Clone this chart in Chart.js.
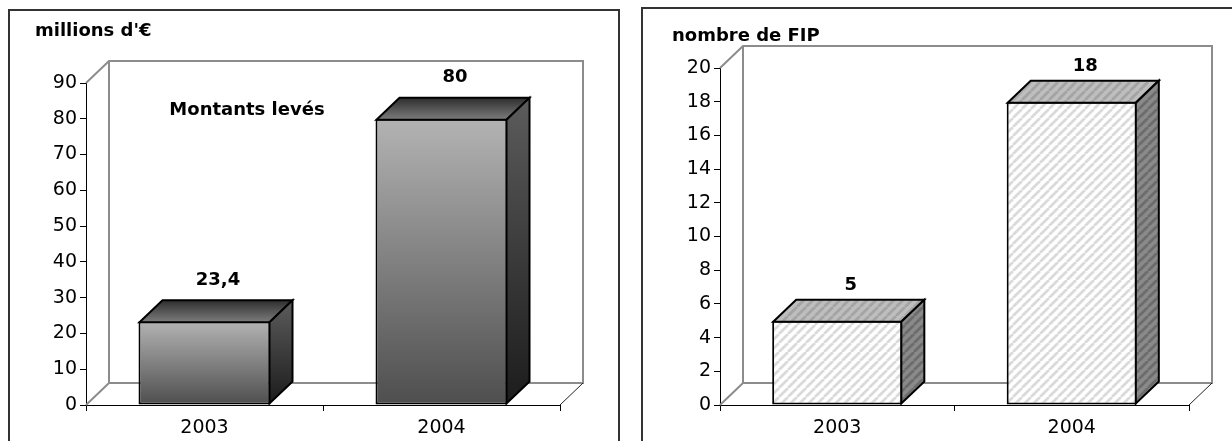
<!DOCTYPE html>
<html lang="fr">
<head>
<meta charset="utf-8">
<title>Montants levés et nombre de FIP</title>
<script src="https://cdn.jsdelivr.net/npm/chart.js@4.4.1/dist/chart.umd.min.js"></script>
<style>
  html, body { margin: 0; padding: 0; background: #fff; overflow: hidden; }
  body { position: relative; width: 1232px; height: 441px; }
  .frame { position: absolute; box-sizing: border-box; border: 2px solid #333; height: 460px; }
  #frameLeft { left: 8px; top: 9px; width: 612px; }
  #frameRight { left: 641px; top: 7px; width: 620px; }
  canvas { position: absolute; }
  #montantsChart { left: 11px; top: 12px; }
  #fipChart { left: 644px; top: 10px; }
</style>
</head>
<body>
<div class="frame" id="frameLeft"></div>
<div class="frame" id="frameRight"></div>
<canvas id="montantsChart" width="606" height="429"></canvas>
<canvas id="fipChart" width="588" height="431"></canvas>
<script>
const years = ['2003', '2004'];
const montants = [23.4, 80];
const nombreFip = [5, 18];
const montantsMax = 90, montantsStep = 10;
const fipMax = 20, fipStep = 2;
const montantsUnit = "millions d'€";
const fipUnit = 'nombre de FIP';
const montantsLabel = 'Montants levés';

// depth of the fake 3D (walls and bars)
const DX = 23, DY = 22;

Chart.defaults.font.family = '"DejaVu Sans", "Liberation Sans", sans-serif';
Chart.defaults.font.size = 19;
Chart.defaults.color = '#000';

function stripes(bg, fg) {
  const c = document.createElement('canvas');
  c.width = 9;
  c.height = 9;
  const g = c.getContext('2d');
  g.fillStyle = bg;
  g.fillRect(0, 0, 9, 9);
  g.strokeStyle = fg;
  g.lineWidth = 2.8;
  g.beginPath();
  for (const k of [-9, 0, 9]) {
    g.moveTo(k, 9);
    g.lineTo(k + 9, 0);
  }
  g.stroke();
  return g.createPattern(c, 'repeat');
}

const hatchFront = stripes('#ffffff', '#dadada');
const hatchTop = stripes('#bebebe', '#a4a4a4');
const hatchSide = stripes('#8a8a8a', '#6c6c6c');

// front face gradient, from the bar's own top down to the baseline
function frontFill(c) {
  const chart = c.chart;
  const y = chart.scales.y;
  if (!chart.chartArea || !y) return '#888';
  const top = y.getPixelForValue(c.raw);
  const base = y.getPixelForValue(0);
  const g = chart.ctx.createLinearGradient(0, top, 0, base);
  g.addColorStop(0, '#b3b3b3');
  g.addColorStop(1, '#4e4e4e');
  return g;
}

function faceFill(ctx, look, face, y0, y1) {
  if (look === 'hatch') return face === 'top' ? hatchTop : hatchSide;
  const g = ctx.createLinearGradient(0, y0, 0, y1);
  if (face === 'top') {
    g.addColorStop(0, '#2e2e2e');
    g.addColorStop(1, '#7c7c7c');
  } else {
    g.addColorStop(0, '#5c5c5c');
    g.addColorStop(1, '#1c1c1c');
  }
  return g;
}

const box3d = {
  id: 'box3d',
  beforeDatasetsDraw(chart) {
    const { ctx, chartArea: a } = chart;
    ctx.save();
    ctx.strokeStyle = '#8c8c8c';
    ctx.lineWidth = 2;
    ctx.beginPath();
    ctx.moveTo(a.left, a.top);
    ctx.lineTo(a.left + DX, a.top - DY);
    ctx.lineTo(a.right + DX, a.top - DY);
    ctx.lineTo(a.right + DX, a.bottom - DY);
    ctx.lineTo(a.left + DX, a.bottom - DY);
    ctx.lineTo(a.left + DX, a.top - DY);
    ctx.moveTo(a.left, a.bottom);
    ctx.lineTo(a.left + DX, a.bottom - DY);
    ctx.stroke();
    ctx.strokeStyle = '#222';
    ctx.lineWidth = 1;
    ctx.beginPath();
    ctx.moveTo(a.right, a.bottom);
    ctx.lineTo(a.right + DX, a.bottom - DY);
    ctx.stroke();
    ctx.restore();
  },
  afterDatasetsDraw(chart, args, opts) {
    const { ctx, chartArea: a } = chart;
    const ds = chart.data.datasets[0];
    const meta = chart.getDatasetMeta(0);
    ctx.save();
    ctx.lineWidth = 2;
    ctx.strokeStyle = '#000';
    ctx.lineJoin = 'miter';
    meta.data.forEach((bar, i) => {
      const l = bar.x - bar.width / 2 + 1;
      const r = bar.x + bar.width / 2 - 1;
      const t = bar.y + 1;
      const b = bar.base - 1;
      // top face
      ctx.beginPath();
      ctx.moveTo(l, t);
      ctx.lineTo(l + DX, t - DY);
      ctx.lineTo(r + DX, t - DY);
      ctx.lineTo(r, t);
      ctx.closePath();
      ctx.fillStyle = faceFill(ctx, opts.look, 'top', t - DY, t);
      ctx.fill();
      ctx.stroke();
      // side face
      ctx.beginPath();
      ctx.moveTo(r, t);
      ctx.lineTo(r + DX, t - DY);
      ctx.lineTo(r + DX, b - DY);
      ctx.lineTo(r, b);
      ctx.closePath();
      ctx.fillStyle = faceFill(ctx, opts.look, 'side', t - DY, b);
      ctx.fill();
      ctx.stroke();
      // value label
      ctx.font = 'bold 18px "DejaVu Sans", sans-serif';
      ctx.fillStyle = '#000';
      ctx.textAlign = 'center';
      ctx.textBaseline = 'middle';
      ctx.fillText(String(ds.data[i]).replace('.', ','), bar.x + DX / 2 + 2, bar.y - DY - opts.gap);
    });
    if (opts.inner) {
      ctx.font = 'bold 18px "DejaVu Sans", sans-serif';
      ctx.fillStyle = '#000';
      ctx.textAlign = 'center';
      ctx.textBaseline = 'middle';
      ctx.fillText(ds.label, a.left + 161, a.top + 27);
    }
    ctx.restore();
  }
};

function scales(max, step, yWidth) {
  return {
    x: {
      grid: { drawOnChartArea: false, color: '#000', tickLength: 6 },
      border: { color: '#000', width: 1 },
      ticks: { padding: 6 },
      afterFit(s) { s.height = 36; }
    },
    y: {
      min: 0,
      max: max,
      grid: { drawOnChartArea: false, color: '#000', tickLength: 6 },
      border: { color: '#000', width: 1 },
      ticks: { stepSize: step, padding: 3 },
      afterFit(s) { s.width = yWidth; }
    }
  };
}

new Chart(document.getElementById('montantsChart'), {
  type: 'bar',
  data: {
    labels: years,
    datasets: [{
      label: montantsLabel,
      data: montants,
      backgroundColor: frontFill,
      borderColor: '#000',
      borderWidth: 2,
      borderSkipped: false,
      categoryPercentage: 1,
      barPercentage: 0.557
    }]
  },
  options: {
    responsive: false,
    animation: false,
    events: [],
    layout: { padding: { left: 24, right: 57, top: 0, bottom: 0 } },
    scales: scales(montantsMax, montantsStep, 51),
    plugins: {
      legend: { display: false },
      tooltip: { enabled: false },
      title: {
        display: true,
        text: montantsUnit,
        align: 'start',
        color: '#000',
        font: { size: 18, weight: 'bold' },
        padding: { top: 8.2, bottom: 41.2 }
      },
      box3d: { look: 'gradient', gap: 19, inner: true }
    }
  },
  plugins: [box3d]
});

new Chart(document.getElementById('fipChart'), {
  type: 'bar',
  data: {
    labels: years,
    datasets: [{
      label: fipUnit,
      data: nombreFip,
      backgroundColor: hatchFront,
      borderColor: '#000',
      borderWidth: 2,
      borderSkipped: false,
      categoryPercentage: 1,
      barPercentage: 0.555
    }]
  },
  options: {
    responsive: false,
    animation: false,
    events: [],
    layout: { padding: { left: 28, right: 43, top: 0, bottom: 0 } },
    scales: scales(fipMax, fipStep, 48),
    plugins: {
      legend: { display: false },
      tooltip: { enabled: false },
      title: {
        display: true,
        text: fipUnit,
        align: 'start',
        color: '#000',
        font: { size: 18, weight: 'bold' },
        padding: { top: 15.2, bottom: 21.2 }
      },
      box3d: { look: 'hatch', gap: 13, inner: false }
    }
  },
  plugins: [box3d]
});
</script>
</body>
</html>
